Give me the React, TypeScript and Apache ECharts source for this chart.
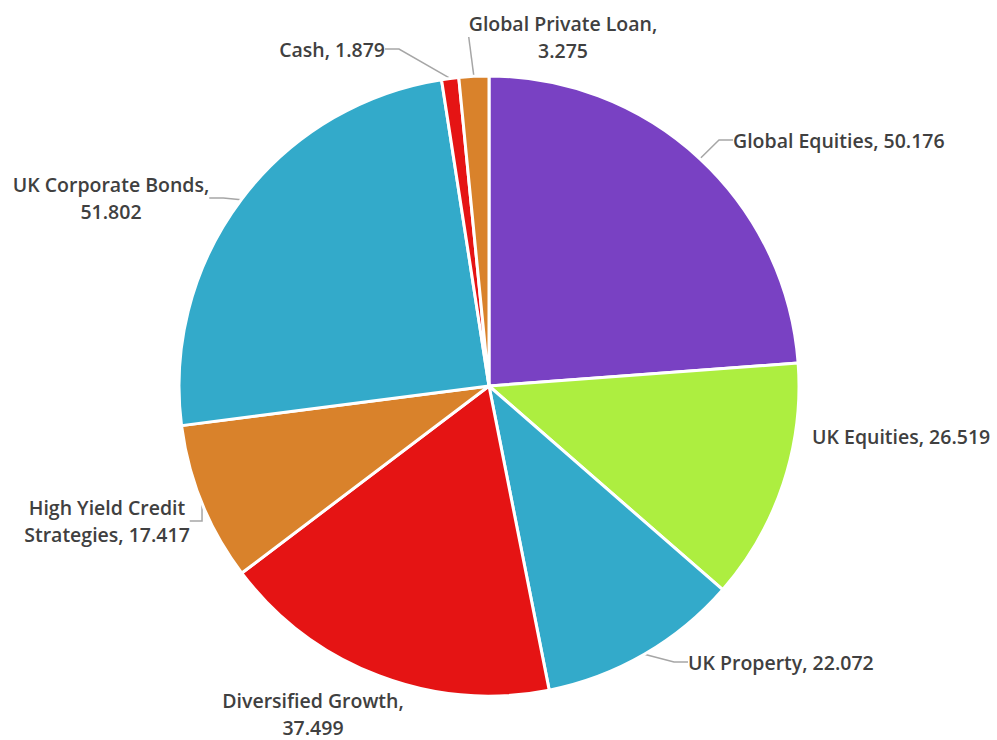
import React, { useEffect, useRef } from "react";
import * as echarts from "echarts";

const categories = [
  "Global Equities",
  "UK Equities",
  "UK Property",
  "Diversified Growth",
  "High Yield Credit Strategies",
  "UK Corporate Bonds",
  "Cash",
  "Global Private Loan",
];
const values = [50.176, 26.519, 22.072, 37.499, 17.417, 51.802, 1.879, 3.275];
const labelLines = [
  ["Global Equities, 50.176"],
  ["UK Equities, 26.519"],
  ["UK Property, 22.072"],
  ["Diversified Growth,", "37.499"],
  ["High Yield Credit", "Strategies, 17.417"],
  ["UK Corporate Bonds,", "51.802"],
  ["Cash, 1.879"],
  ["Global Private Loan,", "3.275"],
];
const colors = ["#7941C3", "#ADEE40", "#33AACA", "#E51414", "#D9822B", "#33AACA", "#E51414", "#D9822B"];
const showLeader = [true, false, true, false, true, true, true, true];

// label anchor placement (chart pixels), mimicking the reference layout
const labelPlacement: { x: number; y: number; align: string }[] = [
  { x: 733, y: 140, align: "left" },
  { x: 812, y: 436, align: "left" },
  { x: 688, y: 662, align: "left" },
  { x: 313, y: 714, align: "center" },
  { x: 107, y: 521, align: "center" },
  { x: 111, y: 198, align: "center" },
  { x: 385, y: 49, align: "right" },
  { x: 563, y: 37, align: "center" },
];

export default function App() {
  const ref = useRef<HTMLDivElement>(null);
  useEffect(() => {
    if (!ref.current) return;
    document.body.style.margin = "0";
    const chart = echarts.init(ref.current, undefined, { renderer: "svg" });
    const textStyle = {
      fontFamily: "Open Sans",
      fontWeight: 600,
      fontSize: 19.5,
      color: "#404040",
      lineHeight: 27,
    };
    chart.setOption({
      animation: false,
      backgroundColor: "#ffffff",
      series: [
        {
          type: "pie",
          center: [489, 386],
          radius: [0, 310],
          startAngle: 90,
          clockwise: true,
          avoidLabelOverlap: false,
          itemStyle: { borderColor: "#ffffff", borderWidth: 3 },
          label: {
            show: true,
            position: "outside",
            ...textStyle,
            formatter: (p: any) => labelLines[p.dataIndex].map((l) => "{a|" + l + "}").join("\n"),
            rich: { a: { ...textStyle, align: "center" } },
          },
          labelLayout: (params: any) => {
            const p = labelPlacement[params.dataIndex];
            return {
              x: p.x,
              y: p.y,
              align: p.align,
              verticalAlign: "middle",
              hideOverlap: false,
            };
          },
          labelLine: {
            show: true,
            length: 16,
            length2: 14,
            lineStyle: { color: "#A6A6A6", width: 1.5 },
          },
          data: categories.map((c, i) => ({
            name: c,
            value: values[i],
            itemStyle: { color: colors[i] },
            labelLine: { show: showLeader[i] },
          })),
        },
      ],
    });
    return () => chart.dispose();
  }, []);
  return <div ref={ref} style={{ width: 997, height: 740 }} />;
}
